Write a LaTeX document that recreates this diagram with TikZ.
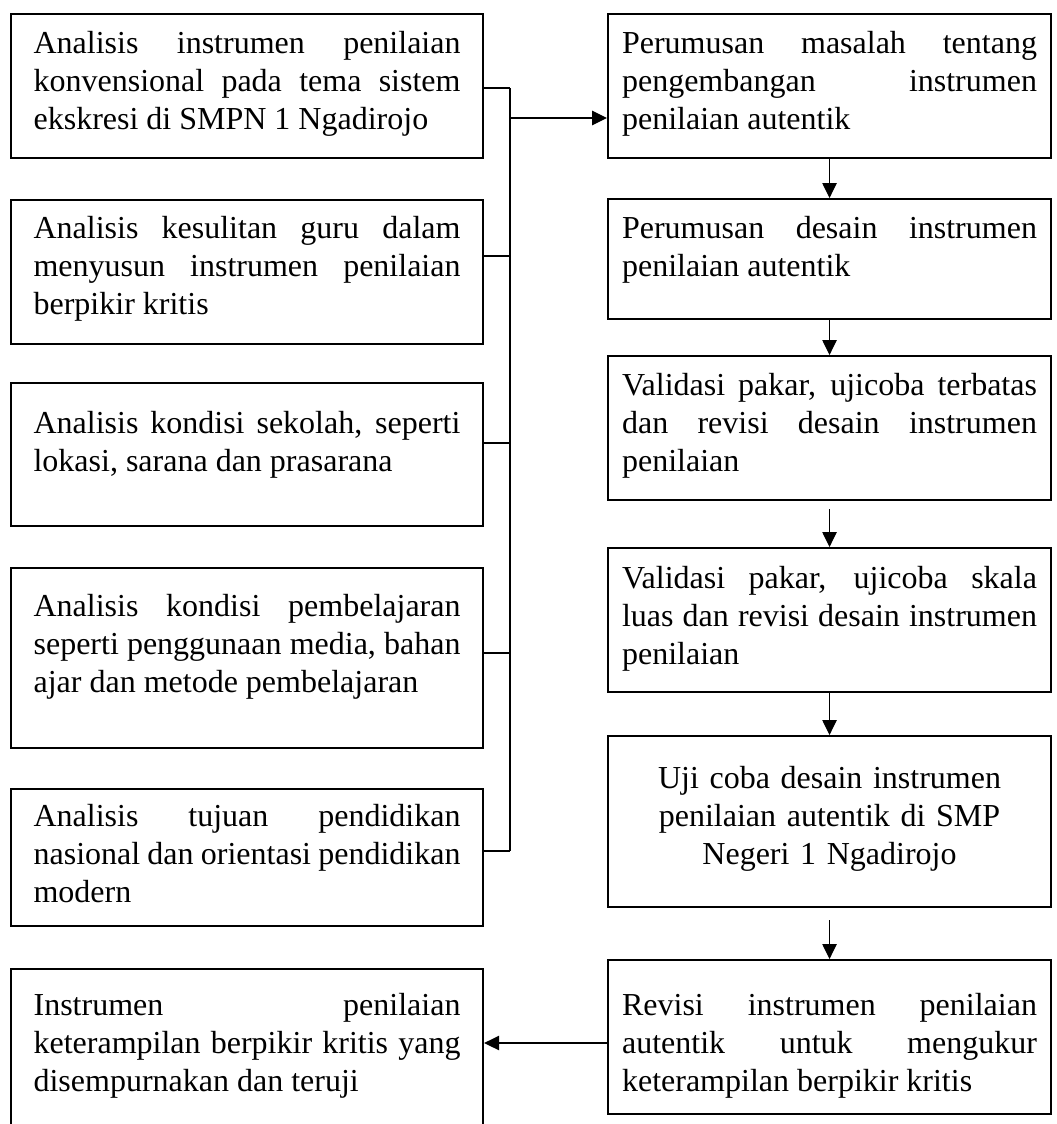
\documentclass[tikz,border=0pt]{standalone}
\usepackage{fontspec}
\setmainfont{Liberation Serif}
\usetikzlibrary{arrows.meta}
\hyphenpenalty=10000
\exhyphenpenalty=10000
\tolerance=10000
\hbadness=10000

\tikzset{
  kotak/.style={draw, line width=0.8pt, anchor=north west, align=justify,
    inner xsep=8.45pt, inner ysep=6pt, font=\fontsize{12}{14.4}\selectfont},
  kiri/.style={kotak, text width=160.1pt},
  kanan/.style={kotak, text width=155.6pt, inner xsep=5.25pt},
  garis/.style={line width=0.45pt},
  panah/.style={garis, -{Triangle[length=5.6pt, width=5.4pt]}}
}

\begin{document}
\begin{tikzpicture}[x=0.375pt, y=-0.375pt]
  \clip (0,0) rectangle (1057,1124);
  % Analisis awal
  \node[kiri, text height=8.6pt, text depth=33.4pt] (b1) at (10,13)
    {Analisis instrumen penilaian\linebreak konvensional pada tema sistem\linebreak ekskresi di SMPN 1 Ngadirojo};
  \node[kiri, text height=8.25pt, text depth=33.75pt] (b2) at (10,199)
    {Analisis kesulitan guru dalam\linebreak menyusun instrumen penilaian\linebreak berpikir kritis};
  \node[kiri, text height=12.75pt, text depth=28.85pt] (b3) at (10,382)
    {Analisis kondisi sekolah, seperti\linebreak lokasi, sarana dan prasarana};
  \node[kiri, text height=12pt, text depth=43.5pt] (b4) at (10,567)
    {Analisis kondisi pembelajaran\linebreak seperti penggunaan media, bahan\linebreak ajar dan metode pembelajaran};
  \node[kiri, text height=7.9pt, text depth=31.5pt] (b5) at (10,788)
    {Analisis tujuan pendidikan\linebreak nasional dan orientasi pendidikan\linebreak modern};
  \node[kiri, text height=11.25pt, text depth=41.25pt] (b6) at (10,968)
    {Instrumen penilaian\linebreak keterampilan berpikir kritis yang\linebreak disempurnakan dan teruji};

  % Tahap pengembangan
  \node[kanan, text height=8.6pt, text depth=33.4pt] (r1) at (607,13)
    {Perumusan masalah tentang\linebreak pengembangan instrumen\linebreak penilaian autentik};
  \node[kanan, text height=8.6pt, text depth=24.4pt] (r2) at (607,198)
    {Perumusan desain instrumen\linebreak penilaian autentik};
  \node[kanan, text height=8.6pt, text depth=33.4pt] (r3) at (607,355)
    {Validasi pakar, ujicoba terbatas\linebreak dan revisi desain instrumen\linebreak penilaian};
  \node[kanan, text height=9pt, text depth=33pt] (r4) at (607,547)
    {Validasi pakar, ujicoba skala\linebreak luas dan revisi desain instrumen\linebreak penilaian};
  \node[kanan, align=center, text height=13.5pt, text depth=38.6pt] (r5) at (607,735)
    {Uji coba desain instrumen\\ penilaian autentik di SMP\\ Negeri 1 Ngadirojo};
  \node[kanan, text height=14.6pt, text depth=31.15pt] (r6) at (607,959)
    {Revisi instrumen penilaian\linebreak autentik untuk mengukur\linebreak keterampilan berpikir kritis};

  % Kurung penghubung
  \coordinate (k1) at (510,88);
  \coordinate (k2) at (510,256);
  \coordinate (k3) at (510,443);
  \coordinate (k4) at (510,653);
  \coordinate (k5) at (510,851);
  \coordinate (cabang) at (510,118);
  \foreach \i in {1,...,5}
    \draw[garis] (b\i.east |- k\i) -- (k\i);
  \draw[garis] (k1) -- (k5);
  \draw[panah] (cabang) -- (r1.west |- cabang);

  % Alur
  \draw[panah] (r1.south) -- (r2.north);
  \draw[panah] (r2.south) -- (r3.north);
  \draw[panah, shorten <=3pt] (r3.south) -- (r4.north);
  \draw[panah] (r4.south) -- (r5.north);
  \draw[panah, shorten <=4.5pt] (r5.south) -- (r6.north);
  \coordinate (balik) at (0,1043);
  \draw[panah] (r6.west |- balik) -- (b6.east |- balik);
\end{tikzpicture}
\end{document}
